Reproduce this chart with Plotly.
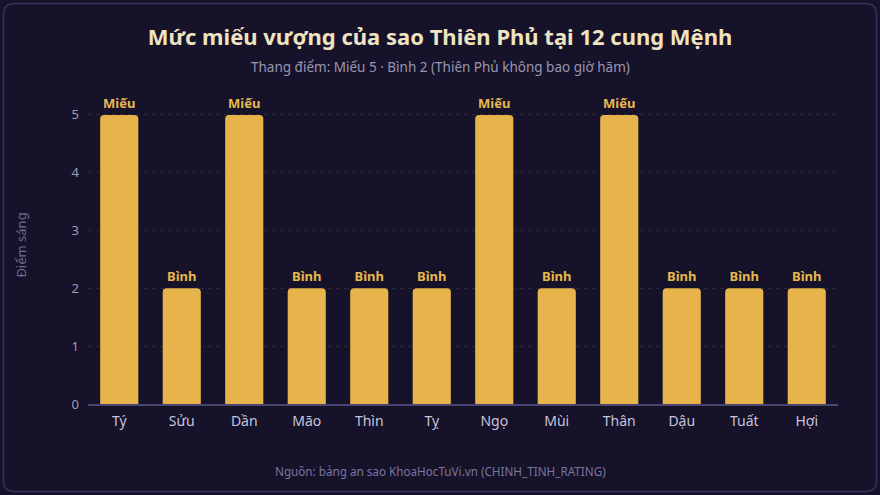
import plotly.graph_objects as go

cung = ["Tý", "Sửu", "Dần", "Mão", "Thìn", "Tỵ", "Ngọ", "Mùi", "Thân", "Dậu", "Tuất", "Hợi"]
diem = [5, 2, 5, 2, 2, 2, 5, 2, 5, 2, 2, 2]
muc = ["Miếu", "Bình", "Miếu", "Bình", "Bình", "Bình", "Miếu", "Bình", "Miếu", "Bình", "Bình", "Bình"]

W, H = 880, 495
ML, MR, MT, MB = 88, 42, 86, 91
FONT = "Noto Sans"

fig = go.Figure(go.Bar(
    x=cung, y=diem, text=muc, textposition="outside",
    marker=dict(color="#e6b44a", line=dict(width=0)),
    textfont=dict(family=FONT, size=13, color="#e8b84c", weight="bold"),
    cliponaxis=False, hoverinfo="skip",
))

pw = W - ML - MR
ph = H - MT - MB
def px(x):
    return (x - ML) / pw
def py(y):
    return (H - MB - y) / ph

x0, x1, y0, y1, r = 3.5, 876.5, 3.5, 491.5, 11
path = (f"M {px(x0+r)},{py(y0)} L {px(x1-r)},{py(y0)} "
        f"Q {px(x1)},{py(y0)} {px(x1)},{py(y0+r)} L {px(x1)},{py(y1-r)} "
        f"Q {px(x1)},{py(y1)} {px(x1-r)},{py(y1)} L {px(x0+r)},{py(y1)} "
        f"Q {px(x0)},{py(y1)} {px(x0)},{py(y1-r)} L {px(x0)},{py(y0+r)} "
        f"Q {px(x0)},{py(y0)} {px(x0+r)},{py(y0)} Z")

fig.update_layout(
    width=W, height=H,
    margin=dict(l=ML, r=MR, t=MT, b=MB),
    paper_bgcolor="#15122a", plot_bgcolor="#15122a",
    bargap=0.39, barcornerradius=4,
    font=dict(family=FONT),
    showlegend=False,
    title=dict(
        text="<b>Mức miếu vượng của sao Thiên Phủ tại 12 cung Mệnh</b>",
        x=0.5, xref="container", xanchor="center", y=1 - 37 / H, yanchor="middle",
        font=dict(family=FONT, size=22, color="#efe3c0"),
    ),
    xaxis=dict(
        showgrid=False, showline=True, linecolor="#4a4670", linewidth=1.5,
        tickfont=dict(family=FONT, size=14, color="#c8c4dc"), ticks="",
        ticklabelstandoff=3,
        fixedrange=True,
    ),
    yaxis=dict(
        range=[0, 5.5], tickvals=[0, 1, 2, 3, 4, 5],
        showgrid=True, gridcolor="rgba(255,255,255,0.09)", griddash="4px,4px", gridwidth=1,
        zeroline=False, showline=False, ticks="",
        tickfont=dict(family=FONT, size=13, color="#a09cb8"),
        ticklabelstandoff=8,
        title=dict(text="Điểm sáng", font=dict(family=FONT, size=13, color="#6e6a8a"), standoff=42),
        fixedrange=True,
    ),
    shapes=[dict(type="path", path=path, xref="paper", yref="paper",
                 line=dict(color="#35315a", width=1.5), fillcolor="rgba(0,0,0,0)", layer="below")],
    annotations=[
        dict(text="Thang điểm: Miếu 5 · Bình 2 (Thiên Phủ không bao giờ hãm)",
             xref="paper", yref="paper", x=px(440), y=py(67), xanchor="center", yanchor="middle",
             showarrow=False, font=dict(family=FONT, size=13.5, color="#9a96b0")),
        dict(text="Nguồn: bảng an sao KhoaHocTuVi.vn (CHINH_TINH_RATING)",
             xref="paper", yref="paper", x=px(440), y=py(471), xanchor="center", yanchor="middle",
             showarrow=False, font=dict(family=FONT, size=11.7, color="#7a76a0")),
    ],
)

fig.write_html("out.html")
